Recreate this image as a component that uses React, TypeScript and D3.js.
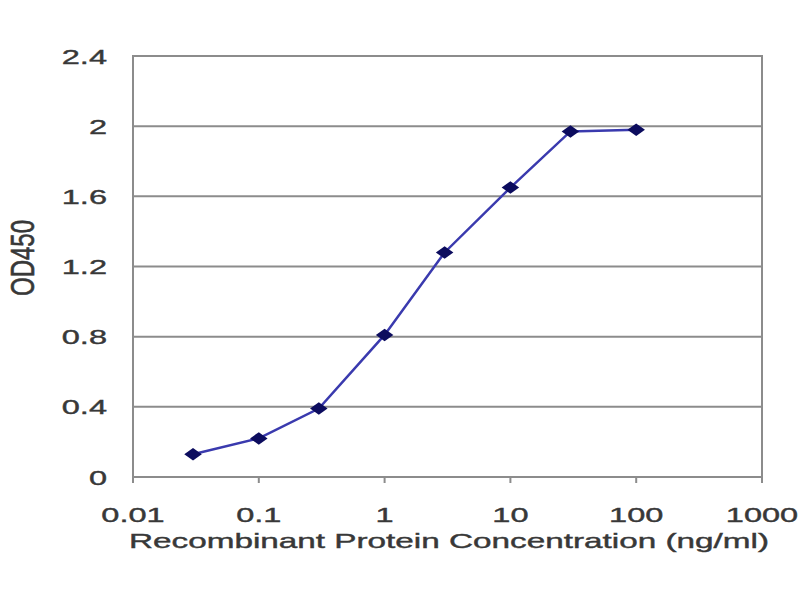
import * as d3 from 'd3';

// ELISA standard curve
const concentrations = [0.03, 0.1, 0.3, 1, 3, 10, 30, 100];
const od450 = [0.13, 0.22, 0.39, 0.81, 1.28, 1.65, 1.97, 1.98];
const xTicks = [0.01, 0.1, 1, 10, 100, 1000];
const xTickLabels = ['0.01', '0.1', '1', '10', '100', '1000'];
const yTicks = [0, 0.4, 0.8, 1.2, 1.6, 2, 2.4];
const yTickLabels = ['0', '0.4', '0.8', '1.2', '1.6', '2', '2.4'];

const width = 800;
const height = 600;
const margin = { top: 56, right: 38, bottom: 123, left: 133 };

// the source image is stretched sideways, so text is widened to match
const stretch = 1.55;

export default function App() {
  const innerW = width - margin.left - margin.right;
  const innerH = height - margin.top - margin.bottom;

  const x = d3.scaleLog().domain([0.01, 1000]).range([0, innerW]);
  const y = d3.scaleLinear().domain([0, 2.4]).range([innerH, 0]);

  const points = concentrations.map((c, i) => ({ c, v: od450[i] }));
  const line = d3.line<{ c: number; v: number }>()
    .x(d => x(d.c))
    .y(d => y(d.v));
  const diamond = d3.symbol().type(d3.symbolDiamond2).size(100)();

  const font = '"Liberation Sans", Arial, sans-serif';
  const textColor = '#383838';

  return (
    <svg
      width={width}
      height={height}
      style={{ position: 'absolute', left: 0, top: 0, background: '#fff' }}
      fontFamily={font}
    >
      <g transform={`translate(${margin.left},${margin.top})`}>
        {/* grid lines */}
        {yTicks.map(t => (
          <line key={t} x1={0} x2={innerW} y1={y(t)} y2={y(t)} stroke="#8c8c8c" strokeWidth={2} />
        ))}
        {/* plot border */}
        <rect x={0} y={0} width={innerW} height={innerH} fill="none" stroke="#8c8c8c" strokeWidth={2} />

        {/* y tick labels */}
        {yTicks.map((t, i) => (
          <text
            key={t}
            transform={`translate(-26,${y(t)}) scale(${stretch},1)`}
            dy="0.36em"
            textAnchor="end"
            fontSize={21}
            fill={textColor}
            stroke={textColor}
            strokeWidth={0.4}
          >
            {yTickLabels[i]}
          </text>
        ))}

        {/* x ticks */}
        {xTicks.map((t, i) => (
          <g key={t} transform={`translate(${x(t)},${innerH})`}>
            <line y1={0} y2={6} stroke="#8c8c8c" strokeWidth={2} />
            <text
              transform={`translate(0,45) scale(${stretch},1)`}
              textAnchor="middle"
              fontSize={21}
              fill={textColor}
              stroke={textColor}
              strokeWidth={0.4}
            >
              {xTickLabels[i]}
            </text>
          </g>
        ))}

        {/* series */}
        <path d={line(points) ?? ''} fill="none" stroke="#3a3aae" strokeWidth={2.5} />
        {points.map(p => (
          <path
            key={p.c}
            d={diamond ?? ''}
            transform={`translate(${x(p.c)},${y(p.v)}) scale(1.4,1)`}
            fill="#0c0c5e"
          />
        ))}
      </g>

      <text
        x={449}
        y={548}
        textAnchor="middle"
        fontSize={21}
        fill={textColor}
        stroke={textColor}
        strokeWidth={0.4}
        textLength={640}
        lengthAdjust="spacingAndGlyphs"
      >
        Recombinant Protein Concentration (ng/ml)
      </text>
      <text
        transform={`translate(34,${258}) scale(${stretch},1) rotate(-90)`}
        textAnchor="middle"
        fontSize={21}
        fill={textColor}
        stroke={textColor}
        strokeWidth={0.4}
        textLength={76}
        lengthAdjust="spacingAndGlyphs"
      >
        OD450
      </text>
    </svg>
  );
}
